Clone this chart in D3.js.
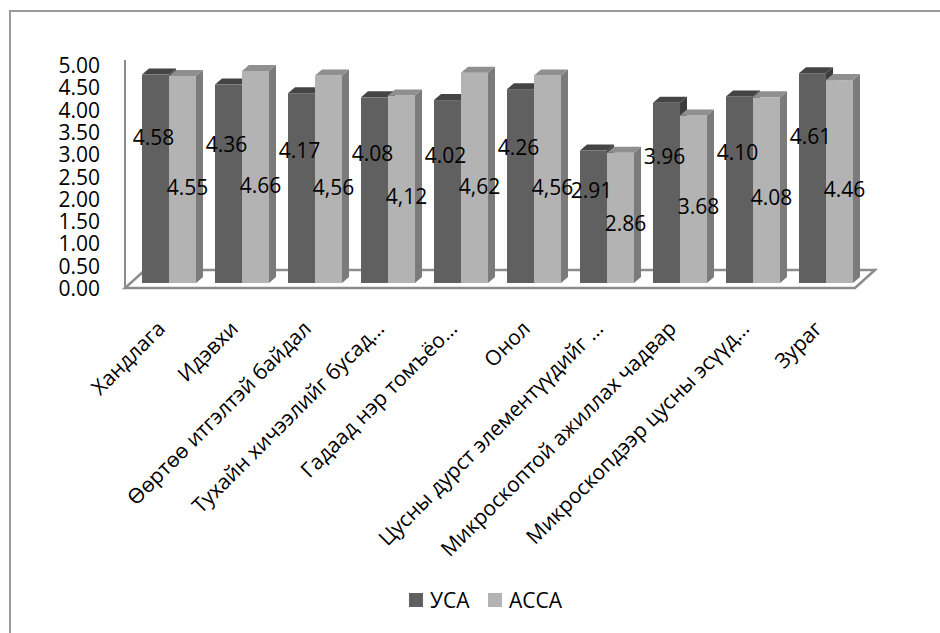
<!DOCTYPE html>
<html>
<head>
<meta charset="utf-8">
<script src="https://cdn.jsdelivr.net/npm/d3@7"></script>
<style>
body { margin: 0; background: #fff; }
text { font-family: "Open Sans", "Noto Sans", sans-serif; font-size: 21px; fill: #000; }
</style>
</head>
<body>
<svg width="940" height="633"></svg>
<script>
var categories = ["Хандлага", "Идэвхи", "Өөртөө итгэлтэй байдал", "Тухайн хичээлийг бусад…",
  "Гадаад нэр томъёо…", "Онол", "Цусны дурст элементүүдийг …", "Микроскоптой ажиллах чадвар",
  "Микроскопдээр цусны эсүүд…", "Зураг"];
var series = ["УСА", "АССА"];
var usa = [4.58, 4.36, 4.17, 4.08, 4.02, 4.26, 2.91, 3.96, 4.10, 4.61];
var acca = [4.55, 4.66, 4.56, 4.12, 4.62, 4.56, 2.86, 3.68, 4.08, 4.46];
var usaLabels = ["4.58", "4.36", "4.17", "4.08", "4.02", "4.26", "2.91", "3.96", "4.10", "4.61"];
var accaLabels = ["4.55", "4.66", "4,56", "4,12", "4,62", "4,56", "2.86", "3.68", "4.08", "4.46"];
var yTicks = [0, 0.5, 1, 1.5, 2, 2.5, 3, 3.5, 4, 4.5, 5];

var svg = d3.select("svg");

var colors = {
  "УСА": {front: "#606060", top: "#444444", side: "#3c3c3c"},
  "АССА": {front: "#b3b3b3", top: "#8f8f8f", side: "#7b7b7b"}
};

// outer frame
svg.append("rect")
  .attr("x", 10).attr("y", 11)
  .attr("width", 1000).attr("height", 1000)
  .attr("fill", "none").attr("stroke", "#9a9a9a").attr("stroke-width", 2);

var x = d3.scaleBand().domain(categories).range([125, 855]);
var xs = d3.scaleBand().domain(series).range([17, 71]);
var yBar = d3.scaleLinear().domain([0, 5]).range([283, 55.5]);
var yFront = d3.scaleLinear().domain([0, 5]).range([288, 65]);

// 3d depth
var floorDx = 20, floorDy = 18;
var dx = 7, dy = 6;

// floor + wall line
var x0f = x.range()[0], x1f = x.range()[1], yf = yFront(0);
svg.append("polygon")
  .attr("points", [[x0f, yf], [x1f, yf], [x1f + floorDx, yf - floorDy], [x0f + floorDx, yf - floorDy]].join(" "))
  .attr("fill", "none").attr("stroke", "#8c8c8c").attr("stroke-width", 2.5);
svg.append("line")
  .attr("x1", x0f).attr("x2", x0f)
  .attr("y1", yFront(5) - 5).attr("y2", yf)
  .attr("stroke", "#8c8c8c").attr("stroke-width", 2);

// y axis labels
var yAxis = d3.axisLeft(yFront)
  .tickValues(yTicks)
  .tickFormat(d3.format(".2f"))
  .tickSize(0)
  .tickPadding(25);
svg.append("g")
  .attr("transform", "translate(" + x0f + ",0)")
  .call(yAxis)
  .call(g => g.select(".domain").remove())
  .selectAll("text").attr("dy", "0.36em");

// bars
var rows = [];
series.forEach(function(s, si) {
  var vals = si === 0 ? usa : acca;
  var labs = si === 0 ? usaLabels : accaLabels;
  categories.forEach(function(c, i) {
    rows.push({cat: c, s: s, si: si, v: vals[i], label: labs[i]});
  });
});

var bars = svg.append("g").selectAll("g")
  .data(rows)
  .enter().append("g");

bars.each(function(d) {
  var g = d3.select(this);
  var bx = x(d.cat) + xs(d.s), w = xs.bandwidth();
  var yt = yBar(d.v), yb = yBar(0);
  var col = colors[d.s];
  g.append("rect")
    .attr("x", bx).attr("y", yt)
    .attr("width", w).attr("height", yb - yt)
    .attr("fill", col.front);
  g.append("polygon")
    .attr("points", [[bx + w, yt], [bx + w + dx, yt - dy], [bx + w + dx, yb - dy], [bx + w, yb]].join(" "))
    .attr("fill", col.side);
  g.append("polygon")
    .attr("points", [[bx, yt], [bx + w, yt], [bx + w + dx, yt - dy], [bx + dx, yt - dy]].join(" "))
    .attr("fill", col.top);
});

// value labels
svg.append("g").selectAll("text")
  .data(rows)
  .enter().append("text")
  .attr("text-anchor", "middle")
  .attr("dy", "0.36em")
  .attr("x", d => x(d.cat) + xs(d.s) + xs.bandwidth() / 2 + (d.si === 0 ? -2 : 5))
  .attr("y", d => yBar(d.v * (d.si === 0 ? 0.7 : 0.46)))
  .text(d => d.label);

// category labels
svg.append("g").selectAll("text")
  .data(categories)
  .enter().append("text")
  .attr("text-anchor", "end")
  .attr("transform", d => "translate(" + (x(d) + x.bandwidth() / 2 + 5) + ",330) rotate(-45)")
  .text(d => d);

// legend
var legend = svg.append("g")
  .attr("transform", "translate(409,593)");
var item = legend.selectAll("g")
  .data(series)
  .enter().append("g")
  .attr("transform", (d, i) => "translate(" + (i * 79) + ",0)");
item.append("rect")
  .attr("width", 14).attr("height", 14)
  .attr("fill", d => colors[d].front);
item.append("text")
  .attr("x", 21).attr("y", 15)
  .text(d => d);
</script>
</body>
</html>
